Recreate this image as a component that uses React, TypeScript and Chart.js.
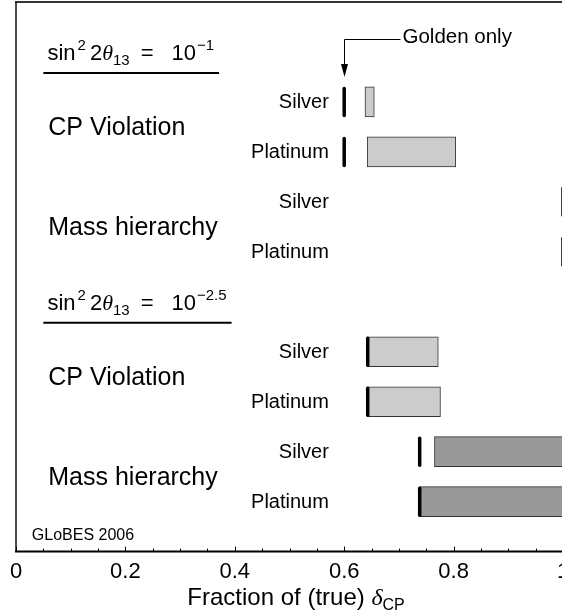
import React, { useEffect, useRef } from 'react';
import { Chart, registerables } from 'chart.js';

Chart.register(...registerables);

// ---- data ----
const rowNames = ['', 'Silver', 'Platinum', 'Silver', 'Platinum', '', 'Silver', 'Platinum', 'Silver', 'Platinum'];
const goldenRows = [1, 2, 3, 4, 6, 7, 8, 9];
const goldenValues = [0.6, 0.6, 1.0, 1.0, 0.643, 0.643, 0.738, 0.738];
const lightRows = [1, 2, 6, 7];
const lightStart = [0.638, 0.642, 0.642, 0.642];
const lightEnd = [0.655, 0.804, 0.772, 0.776];
const darkRows = [8, 9];
const darkStart = [0.765, 0.738];
const darkEnd = [1.0, 1.0];
const xTickValues = [0, 0.2, 0.4, 0.6, 0.8, 1];
const groupNames = ['CP Violation', 'Mass hierarchy', 'CP Violation', 'Mass hierarchy'];
const groupRows = [1.5, 3.5, 6.5, 8.5];
const headerRows = [0, 5];
const headerExponents = ['\u22121', '\u22122.5'];
const annotationText = 'Golden only';
const annotationValue = 0.6;
const watermark = 'GLoBES 2006';
const xTitleMain = 'Fraction of (true) ';
const xTitleGreek = '\u03b4';
const xTitleSub = 'CP';

const SANS = '"Liberation Sans", Arial, Helvetica, sans-serif';
const SERIF = '"Liberation Serif", "DejaVu Serif", serif';

type Run = { text: string; font: string; dy?: number; gap?: number };

function measureRuns(ctx: CanvasRenderingContext2D, runs: Run[]) {
  let w = 0;
  for (const r of runs) {
    w += r.gap || 0;
    ctx.font = r.font;
    w += ctx.measureText(r.text).width;
  }
  return w;
}

function drawRuns(ctx: CanvasRenderingContext2D, runs: Run[], x: number, baseline: number) {
  let cx = x;
  ctx.textAlign = 'left';
  ctx.textBaseline = 'alphabetic';
  for (const r of runs) {
    cx += r.gap || 0;
    ctx.font = r.font;
    ctx.fillText(r.text, cx, baseline + (r.dy || 0));
    cx += ctx.measureText(r.text).width;
  }
  return cx;
}

function headerRuns(exp: string): Run[] {
  return [
    { text: 'sin', font: `22px ${SANS}` },
    { text: '2', font: `15px ${SANS}`, dy: -10, gap: 2 },
    { text: '2', font: `22px ${SANS}`, gap: 4 },
    { text: '\u03b8', font: `italic 22px ${SERIF}` },
    { text: '13', font: `15px ${SANS}`, dy: 5 },
    { text: '=', font: `22px ${SANS}`, gap: 11 },
    { text: '10', font: `22px ${SANS}`, gap: 18 },
    { text: exp, font: `15px ${SANS}`, dy: -10, gap: 1 },
  ];
}

const decorPlugin = {
  id: 'decor',
  beforeDatasetDraw(chart: any, args: any) {
    if (args.meta.type === 'scatter') {
      chart.ctx.save();
      chart.ctx.lineCap = 'round';
    }
  },
  afterDatasetDraw(chart: any, args: any) {
    if (args.meta.type === 'scatter') chart.ctx.restore();
  },
  afterDraw(chart: any) {
    const { ctx, chartArea: ca, scales } = chart;
    const xs = scales.x;
    const ys = scales.y;
    const px = (v: number) => xs.getPixelForValue(v);
    const py = (v: number) => ys.getPixelForValue(v);
    ctx.save();
    ctx.fillStyle = '#000';

    // frame
    ctx.strokeStyle = '#333';
    ctx.lineWidth = 2;
    ctx.beginPath();
    ctx.moveTo(ca.left - 1, ca.top);
    ctx.lineTo(ca.right + 40, ca.top);
    ctx.stroke();
    ctx.lineWidth = 1.5;
    ctx.strokeStyle = '#111';
    ctx.beginPath();
    ctx.moveTo(ca.left, ca.top);
    ctx.lineTo(ca.left, ca.bottom);
    ctx.stroke();
    ctx.strokeStyle = '#000';
    ctx.lineWidth = 2;
    ctx.beginPath();
    ctx.moveTo(ca.left - 1, ca.bottom);
    ctx.lineTo(ca.right + 40, ca.bottom);
    ctx.stroke();

    // inward ticks
    ctx.lineWidth = 1;
    for (let k = 0; k <= 20; k++) {
      const v = k * 0.05;
      const len = k % 4 === 0 ? 5 : 3;
      const xx = Math.round(px(v)) + 0.5;
      ctx.beginPath();
      ctx.moveTo(xx, ca.bottom);
      ctx.lineTo(xx, ca.bottom - len);
      ctx.stroke();
    }

    // row labels
    ctx.font = `20px ${SANS}`;
    ctx.textAlign = 'right';
    ctx.textBaseline = 'middle';
    rowNames.forEach((n, i) => {
      if (n) ctx.fillText(n, px(0.572), py(i) + 1);
    });

    // group labels
    ctx.font = `25px ${SANS}`;
    ctx.textAlign = 'left';
    groupNames.forEach((n, i) => {
      ctx.fillText(n, px(0.059), py(groupRows[i]) + 1);
    });

    // headers
    headerRows.forEach((r, i) => {
      const runs = headerRuns(headerExponents[i]);
      const x0 = px(0.0575);
      const base = py(r) + 8;
      const end = drawRuns(ctx, runs, x0, base);
      ctx.lineWidth = 2;
      ctx.strokeStyle = '#000';
      ctx.beginPath();
      ctx.moveTo(px(0.05), py(r) + 21);
      ctx.lineTo(end + 5, py(r) + 21);
      ctx.stroke();
    });

    // Golden only annotation
    const ax = Math.round(px(annotationValue)) + 0.5;
    const ay = Math.round(py(-0.26)) + 0.5;
    const tip = py(0.5);
    ctx.lineWidth = 1;
    ctx.strokeStyle = '#000';
    ctx.beginPath();
    ctx.moveTo(ax + 56, ay);
    ctx.lineTo(ax, ay);
    ctx.lineTo(ax, tip - 12);
    ctx.stroke();
    ctx.beginPath();
    ctx.moveTo(ax - 3.5, tip - 13);
    ctx.lineTo(ax + 3.5, tip - 13);
    ctx.lineTo(ax, tip);
    ctx.closePath();
    ctx.fill();
    ctx.font = `20.5px ${SANS}`;
    ctx.textAlign = 'left';
    ctx.textBaseline = 'middle';
    ctx.fillText(annotationText, ax + 58, ay - 2);

    // watermark
    ctx.font = `16px ${SANS}`;
    ctx.textBaseline = 'alphabetic';
    ctx.fillText(watermark, px(0.029), ca.bottom - 12);

    // x title
    const tRuns: Run[] = [
      { text: xTitleMain, font: `24px ${SANS}` },
      { text: xTitleGreek, font: `italic 24px ${SERIF}` },
      { text: xTitleSub, font: `16px ${SANS}`, dy: 5 },
    ];
    const tw = measureRuns(ctx, tRuns);
    drawRuns(ctx, tRuns, px(0.512) - tw / 2, ca.bottom + 53);

    ctx.restore();
  },
};

export default function App() {
  const ref = useRef<HTMLCanvasElement | null>(null);
  useEffect(() => {
    document.body.style.margin = '0';
    document.body.style.overflow = 'hidden';
    const canvas = ref.current;
    if (!canvas) return;
    Chart.defaults.font.family = SANS;
    const chart = new Chart(canvas, {
      type: 'bar',
      data: {
        datasets: [
          {
            type: 'scatter',
            label: 'Golden',
            data: goldenRows.map((r, i) => ({ x: goldenValues[i], y: r })),
            pointStyle: 'line',
            pointRadius: 13.5,
            pointRotation: 90,
            pointBorderWidth: 3.5,
            pointBorderColor: '#000',
            pointBackgroundColor: '#000',
            showLine: false,
            order: 0,
          } as any,
          {
            type: 'bar',
            label: 'Light',
            indexAxis: 'y',
            data: lightRows.map((r, i) => ({ x: [lightStart[i], lightEnd[i]], y: r })),
            backgroundColor: '#cccccc',
            borderColor: '#333333',
            borderWidth: 1,
            borderSkipped: false,
            barThickness: 30,
            grouped: false,
            order: 2,
          } as any,
          {
            type: 'bar',
            label: 'Dark',
            indexAxis: 'y',
            data: darkRows.map((r, i) => ({ x: [darkStart[i], darkEnd[i]], y: r })),
            backgroundColor: '#999999',
            borderColor: '#333333',
            borderWidth: 1,
            borderSkipped: false,
            barThickness: 30,
            grouped: false,
            order: 2,
          } as any,
        ],
      },
      options: {
        indexAxis: 'y',
        animation: false,
        responsive: false,
        maintainAspectRatio: false,
        layout: { autoPadding: false, padding: { left: 16, right: 37, top: 2, bottom: 19 } },
        plugins: { legend: { display: false }, tooltip: { enabled: false } },
        scales: {
          x: {
            type: 'linear',
            position: 'bottom',
            offset: false,
            min: 0,
            max: 1,
            afterBuildTicks: (s: any) => {
              s.ticks = xTickValues.map((v) => ({ value: v }));
            },
            ticks: {
              autoSkip: false,
              maxRotation: 0,
              padding: 7,
              color: '#000',
              font: { size: 22, family: SANS },
              callback: (v: any) => String(v),
            },
            grid: { display: false, drawTicks: false, offset: false },
            border: { display: false },
          },
          y: {
            type: 'linear',
            display: false,
            offset: false,
            grid: { offset: false },
            min: -1,
            max: 10,
            reverse: true,
          },
        },
      } as any,
      plugins: [decorPlugin],
    });
    return () => chart.destroy();
  }, []);
  return (
    <div style={{ width: 562, height: 611, overflow: 'hidden', position: 'relative', background: '#fff' }}>
      <canvas ref={ref} width={600} height={611} style={{ display: 'block', width: 600, height: 611 }} />
    </div>
  );
}
